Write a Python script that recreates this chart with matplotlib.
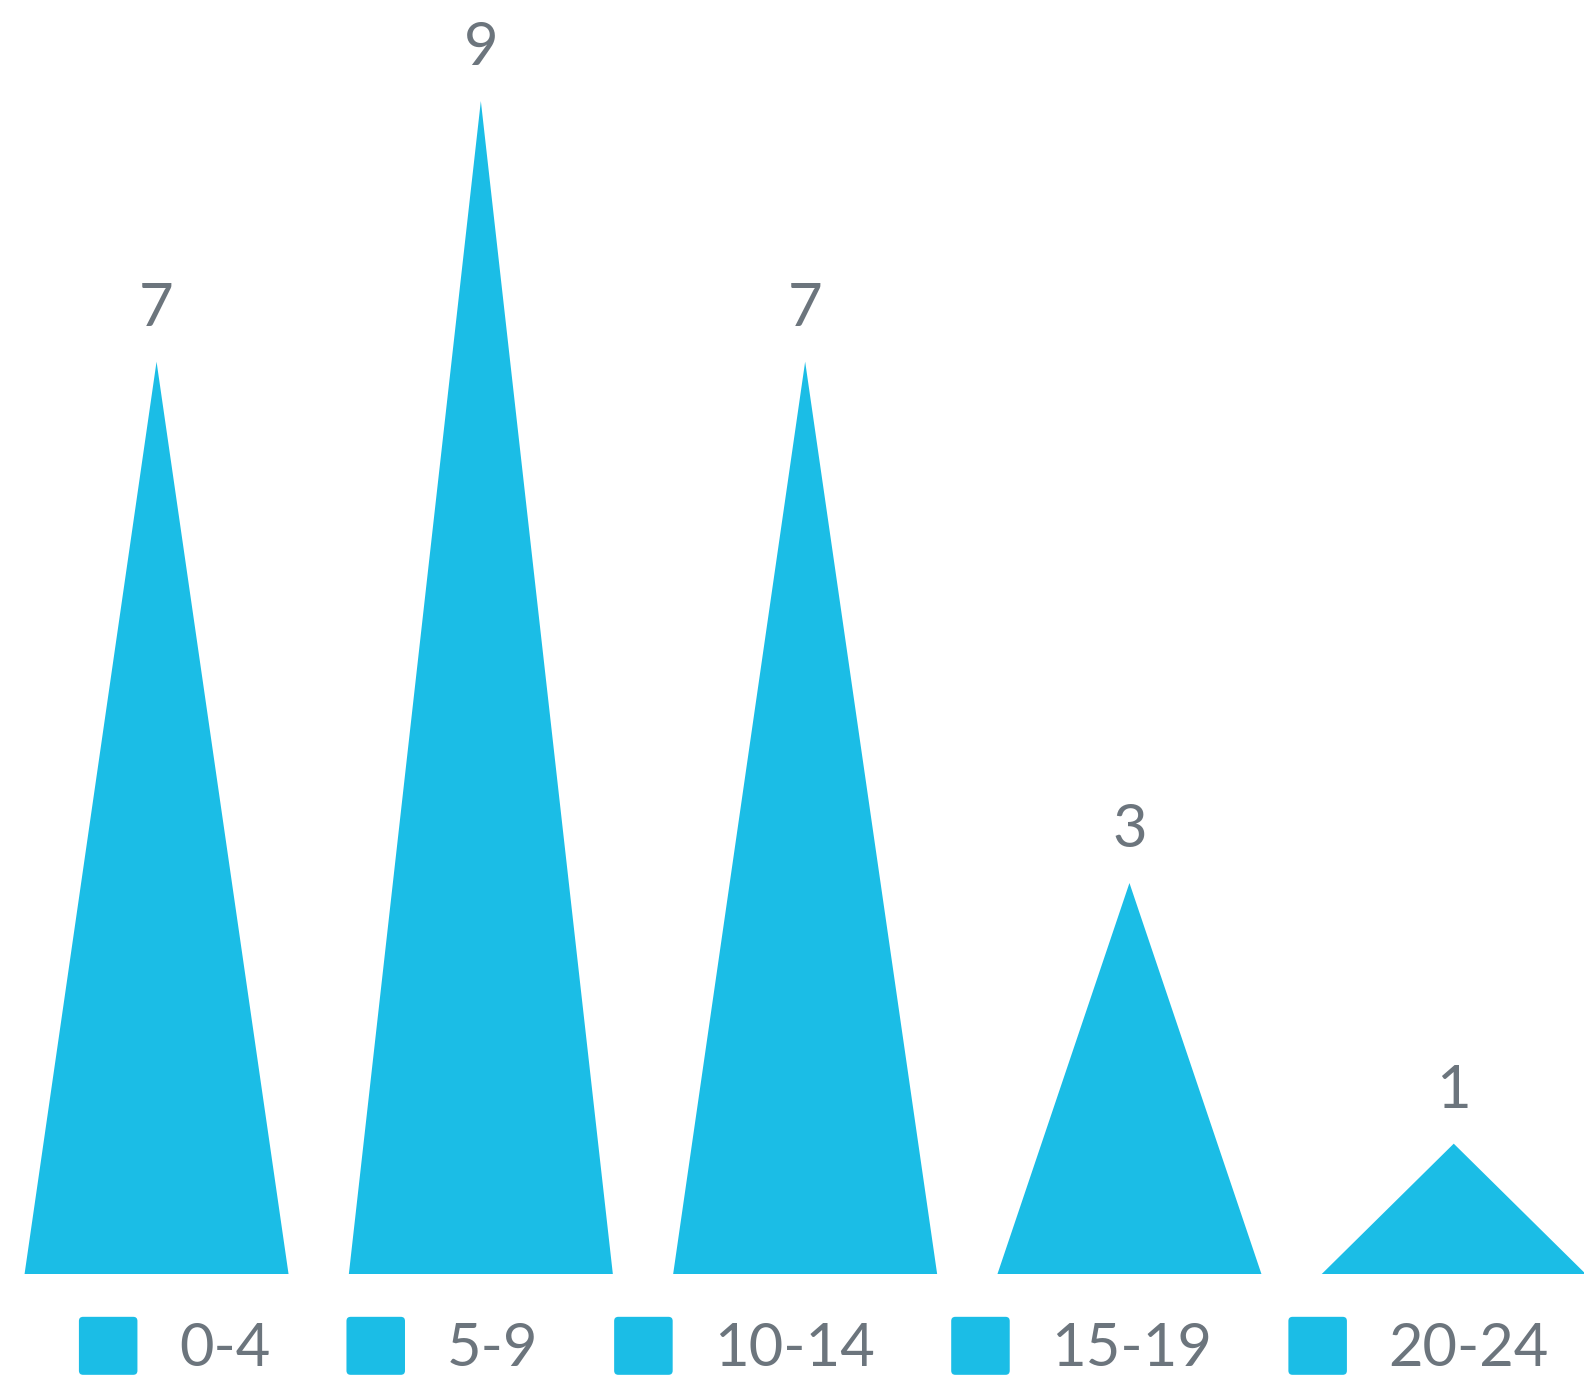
import matplotlib
matplotlib.use("Agg")
import matplotlib.pyplot as plt
from matplotlib.patches import FancyBboxPatch, Patch
from matplotlib.legend_handler import HandlerPatch

# ===== DATA =====
categories = ["0-4", "5-9", "10-14", "15-19", "20-24"]
values = [7, 9, 7, 3, 1]
# ===== STYLE =====
FILL = "#1bbde6"
TEXT = "#6c757d"
W, H, DPI = 1584, 1383, 100

plt.rcParams["font.family"] = ["Lato", "DejaVu Sans"]


def rounded_square(legend, orig_handle, xdescent, ydescent, width, height, fontsize):
    # square box, vertically centred on the text line
    side = 58 * 72 / DPI
    y0 = -ydescent + (height - side) / 2
    return FancyBboxPatch((-xdescent, y0), width, side,
                          boxstyle="round,pad=0,rounding_size=3")


def plot():
    fig = plt.figure(figsize=(W / DPI, H / DPI), dpi=DPI)
    base_px = 1274
    unit_px = 130.33
    ax = fig.add_axes([-5.6 / W, (H - base_px) / H, 1621.5 / W, base_px / H])
    ax.set_xlim(-0.5, len(values) - 0.5)
    ax.set_ylim(0, base_px / unit_px)
    ax.axis("off")

    half = 0.407
    for i, v in enumerate(values):
        ax.fill([i - half, i, i + half], [0, v, 0], color=FILL, linewidth=0)
        ax.annotate(str(v), xy=(i, v), xytext=(0, 26), textcoords="offset points",
                    ha="center", va="baseline", fontsize=43, color=TEXT)

    handles = [Patch(facecolor=FILL, edgecolor="none", label=c) for c in categories]
    leg = fig.legend(handles=handles, loc="center", ncol=5,
                     bbox_to_anchor=(814 / W, 1 - 1348 / H),
                     frameon=False, fontsize=43, borderpad=0,
                     handlelength=0.98, handleheight=0.97,
                     handletextpad=0.70, columnspacing=1.27,
                     handler_map={Patch: HandlerPatch(patch_func=rounded_square)})
    for t in leg.get_texts():
        t.set_color(TEXT)

    fig.savefig("out.png", dpi=DPI)


if __name__ == "__main__":
    plot()
